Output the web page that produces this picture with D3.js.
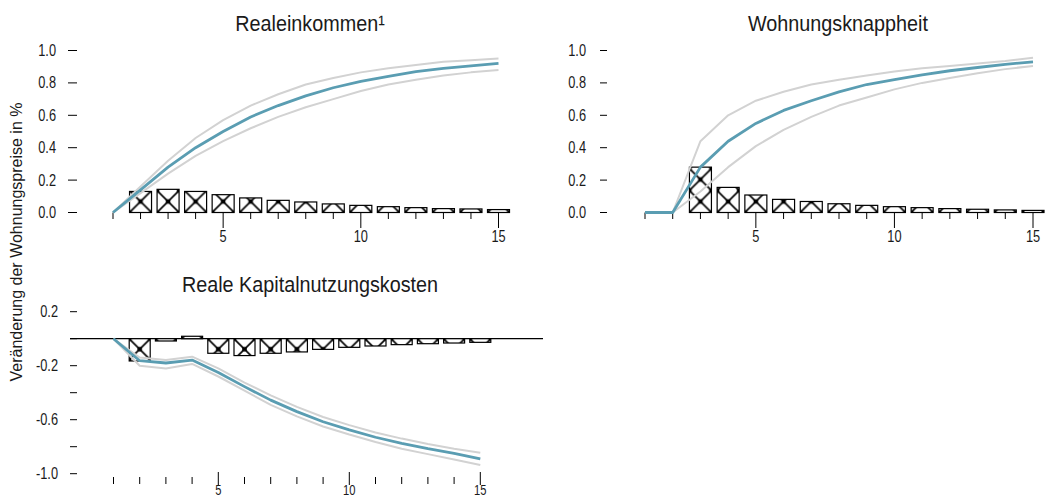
<!DOCTYPE html>
<html>
<head>
<meta charset="utf-8">
<script src="https://cdn.jsdelivr.net/npm/d3@7"></script>
<style>
  html, body { margin: 0; padding: 0; background: #fff; }
  svg { display: block; }
  text { font-family: "Liberation Sans", Arial, sans-serif; fill: #1a1a1a; }
</style>
</head>
<body>
<svg id="chart" width="1046" height="499"></svg>
<script>
// Periods after the shock (years)
const periods = [1, 2, 3, 4, 5, 6, 7, 8, 9, 10, 11, 12, 13, 14, 15];

// Realeinkommen
const incomeResponse = [0, 0.14, 0.28, 0.40, 0.50, 0.59, 0.66, 0.72, 0.77, 0.81, 0.84, 0.87, 0.89, 0.905, 0.92];
const incomeUpper    = [0, 0.16, 0.32, 0.46, 0.57, 0.66, 0.73, 0.79, 0.83, 0.865, 0.89, 0.91, 0.93, 0.94, 0.95];
const incomeLower    = [0, 0.12, 0.24, 0.35, 0.44, 0.52, 0.59, 0.65, 0.70, 0.75, 0.79, 0.82, 0.845, 0.865, 0.88];
const incomeChange   = [0, 0.13, 0.143, 0.13, 0.11, 0.09, 0.075, 0.065, 0.053, 0.044, 0.036, 0.03, 0.024, 0.022, 0.018];

// Wohnungsknappheit
const scarcityResponse = [0, 0, 0.28, 0.44, 0.55, 0.63, 0.69, 0.745, 0.79, 0.82, 0.85, 0.875, 0.895, 0.915, 0.93];
const scarcityUpper    = [0, 0, 0.44, 0.60, 0.69, 0.745, 0.79, 0.82, 0.845, 0.87, 0.89, 0.905, 0.92, 0.935, 0.955];
const scarcityLower    = [0, 0, 0.13, 0.28, 0.41, 0.51, 0.59, 0.66, 0.71, 0.76, 0.80, 0.83, 0.86, 0.885, 0.905];
const scarcityChange   = [0, 0, 0.28, 0.155, 0.108, 0.081, 0.068, 0.054, 0.044, 0.036, 0.03, 0.024, 0.02, 0.016, 0.013];

// Reale Kapitalnutzungskosten
const costResponse = [0, -0.163, -0.18, -0.158, -0.25, -0.355, -0.455, -0.54, -0.615, -0.676, -0.73, -0.775, -0.815, -0.85, -0.89];
const costUpper    = [0, -0.14, -0.158, -0.133, -0.22, -0.325, -0.42, -0.505, -0.58, -0.64, -0.695, -0.74, -0.78, -0.815, -0.845];
const costLower    = [0, -0.20, -0.22, -0.187, -0.28, -0.385, -0.49, -0.575, -0.65, -0.71, -0.765, -0.815, -0.855, -0.895, -0.935];
const costChange   = [0, -0.165, -0.017, 0.018, -0.108, -0.125, -0.108, -0.098, -0.079, -0.064, -0.054, -0.044, -0.037, -0.032, -0.027];

// Axis ticks
const xTickValues = periods;
const xTickLabels = [5, 10, 15];
const upperYTicks = [0, 0.2, 0.4, 0.6, 0.8, 1.0];
const lowerYTicks = [0.2, 0, -0.2, -0.4, -0.6, -0.8, -1.0];
const lowerYLabels = [0.2, -0.2, -0.6, -1.0];

const titles = ["Realeinkommen\u00b9", "Wohnungsknappheit", "Reale Kapitalnutzungskosten"];
const yAxisTitle = "Veränderung der Wohnungspreise in %";

const BLUE = "#5a9db2";
const GREY = "#d2d2d2";
const NARROW = 0.8;   // horizontal squeeze for the condensed label face

const svg = d3.select("#chart");
const defs = svg.append("defs");
const fmt = d => d3.format(".1f")(d).replace("\u2212", "-");

// condensed text: squeeze the glyphs horizontally around the anchor point
function narrowText(parent, x, y, str, size, anchor, squeeze) {
  return parent.append("text")
    .attr("transform", `translate(${x},${y}) scale(${squeeze || NARROW},1)`)
    .attr("text-anchor", anchor).attr("font-size", size)
    .text(str);
}

let patternId = 0;
// A crosshatch tile anchored at the bar's own left edge and baseline
function hatch(x0, y0, w) {
  const id = "hatch" + (patternId++);
  const p = defs.append("pattern")
    .attr("id", id)
    .attr("patternUnits", "userSpaceOnUse")
    .attr("x", x0).attr("y", y0)
    .attr("width", w).attr("height", w);
  p.append("rect").attr("width", w).attr("height", w).attr("fill", "#fff");
  p.append("path")
    .attr("d", `M0,0L${w},${w}M${w},0L0,${w}`)
    .attr("stroke", "#000").attr("stroke-width", 1.6).attr("fill", "none");
  const s = 4.5;
  [[w / 2, w / 2], [0, 0], [w, 0], [0, w], [w, w]].forEach(([cx, cy]) => {
    p.append("rect").attr("x", cx - s / 2).attr("y", cy - s / 2)
      .attr("width", s).attr("height", s).attr("fill", "#000");
  });
  return `url(#${id})`;
}

function panel(cfg) {
  const g = svg.append("g");
  const x = d3.scaleLinear().domain([1, 15]).range(cfg.xRange);
  const y = d3.scaleLinear().domain([0, 1]).range([cfg.y0, cfg.y0 - cfg.unit]);

  // title
  narrowText(g, cfg.titleX, cfg.titleY, cfg.title, 22, "middle", 0.9);

  // y axis: short dashes with labels to the left
  const yt = g.append("g");
  yt.selectAll("line").data(cfg.yTicks).join("line")
    .attr("x1", cfg.dashX[0]).attr("x2", cfg.dashX[1])
    .attr("y1", d => y(d)).attr("y2", d => y(d))
    .attr("stroke", "#000").attr("stroke-width", 1);
  cfg.yLabels.forEach(v => narrowText(yt, cfg.yLabelRight, y(v) + 5.5, fmt(v), 16, "end"));

  // zero line
  if (cfg.zeroLine) {
    g.append("line")
      .attr("x1", cfg.zeroLine[0]).attr("x2", cfg.zeroLine[1])
      .attr("y1", y(0)).attr("y2", y(0))
      .attr("stroke", "#000").attr("stroke-width", 1.2);
  }

  // x axis ticks
  const xg = g.append("g");
  xg.selectAll("line").data(xTickValues).join("line")
    .attr("x1", d => x(d)).attr("x2", d => x(d))
    .attr("y1", d => xTickLabels.includes(d) ? cfg.majorTick[0] : cfg.minorTick[0])
    .attr("y2", d => xTickLabels.includes(d) ? cfg.majorTick[1] : cfg.minorTick[1])
    .attr("stroke", "#000").attr("stroke-width", 1);
  xTickLabels.forEach(v => narrowText(xg, x(v), cfg.xLabelY, String(v), cfg.xLabelSize || 16, "middle"));

  // bars
  const bw = cfg.barWidth;
  g.selectAll("rect.bar").data(cfg.bars).join("rect")
    .attr("class", "bar")
    .attr("x", (d, i) => x(periods[i]) - bw / 2)
    .attr("y", d => Math.min(y(d), y(0)))
    .attr("width", bw)
    .attr("height", d => Math.abs(y(d) - y(0)))
    .attr("fill", (d, i) => hatch(x(periods[i]) - bw / 2, y(0), bw))
    .attr("stroke", "#000").attr("stroke-width", 1.2);

  // response lines: bands first, point estimate on top
  const line = d3.line().x((d, i) => x(periods[i])).y(d => y(d));
  [[cfg.upper, GREY, 2], [cfg.lower, GREY, 2], [cfg.mid, BLUE, 2.8]].forEach(([vals, col, w]) => {
    g.append("path").datum(vals).attr("d", line)
      .attr("fill", "none").attr("stroke", col).attr("stroke-width", w)
      .attr("stroke-linejoin", "round");
  });
}

panel({
  title: titles[0], titleX: 310, titleY: 31,
  xRange: [113, 498.5], y0: 212.5, unit: 162,
  yTicks: upperYTicks, yLabels: upperYTicks, yLabelRight: 56, dashX: [68, 77],
  minorTick: [212.5, 219], majorTick: [212.5, 228], xLabelY: 242,
  barWidth: 22, bars: incomeChange, mid: incomeResponse, upper: incomeUpper, lower: incomeLower
});

panel({
  title: titles[1], titleX: 838, titleY: 31,
  xRange: [645, 1033], y0: 212.5, unit: 162,
  yTicks: upperYTicks, yLabels: upperYTicks, yLabelRight: 586, dashX: [600, 607],
  minorTick: [212.5, 219], majorTick: [212.5, 228], xLabelY: 242,
  barWidth: 22, bars: scarcityChange, mid: scarcityResponse, upper: scarcityUpper, lower: scarcityLower
});

panel({
  title: titles[2], titleX: 310, titleY: 292,
  xRange: [113.5, 480.3], y0: 338.7, unit: 135,
  yTicks: lowerYTicks, yLabels: lowerYLabels, yLabelRight: 58, dashX: [70, 77],
  zeroLine: [70, 543],
  minorTick: [477, 484], majorTick: [472, 485], xLabelY: 495, xLabelSize: 14,
  barWidth: 21, bars: costChange, mid: costResponse, upper: costUpper, lower: costLower
});

// shared y-axis title
svg.append("text")
  .attr("transform", "translate(22,242) rotate(-90)")
  .attr("text-anchor", "middle")
  .attr("font-size", 16)
  .text(yAxisTitle);
</script>
</body>
</html>
